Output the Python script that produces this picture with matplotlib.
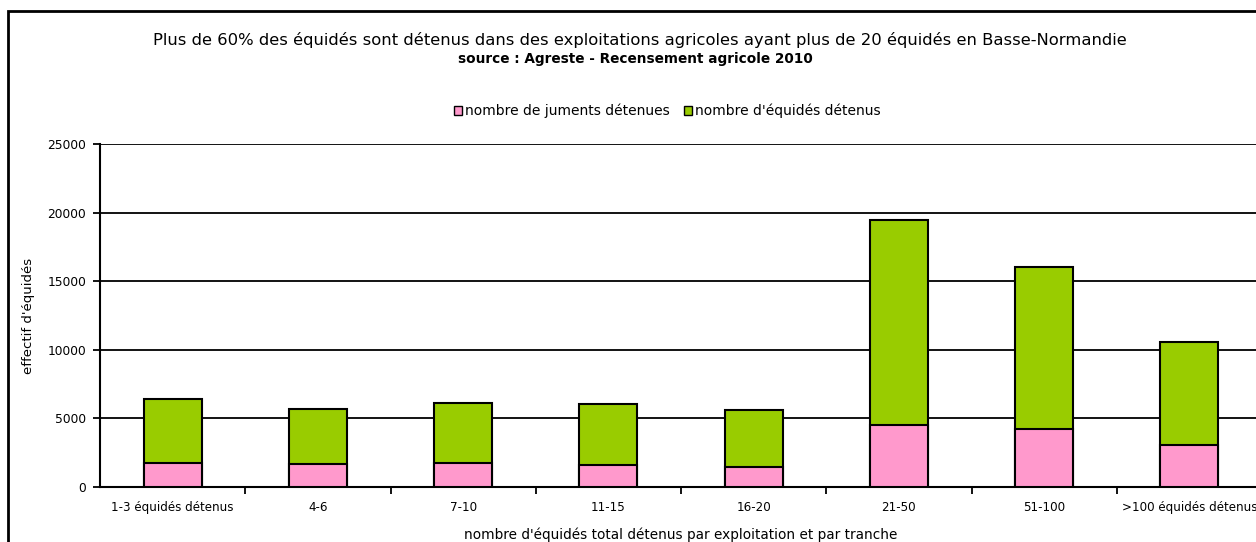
import matplotlib
matplotlib.use("Agg")
import matplotlib.pyplot as plt
import numpy as np
from matplotlib.patches import Rectangle, Patch

plt.rcParams['font.family'] = ['DejaVu Sans']

# données
tranches = ['1-3 équidés détenus', '4-6', '7-10', '11-15', '16-20', '21-50', '51-100', '>100 équidés détenus']
juments = [1770, 1650, 1770, 1625, 1480, 4520, 4230, 3060]
equides = [6450, 5690, 6150, 6030, 5590, 19450, 16030, 10570]

couleur_juments = '#ff99cc'
couleur_equides = '#99cc00'

fig = plt.figure(figsize=(12.56, 5.42), dpi=100)
ax = fig.add_axes([100 / 1256, 1 - 487 / 542, 1162 / 1256, 343 / 542])

# cadre extérieur
fig.patches.append(Rectangle((8 / 1256, -0.05), 1.1, 1 - 11 / 542 + 0.05,
                             transform=fig.transFigure, fill=False,
                             edgecolor='black', linewidth=2))

x = np.arange(len(tranches))
largeur = 0.4
ax.bar(x, equides, largeur, color=couleur_equides, edgecolor='black', linewidth=1.5, zorder=3)
ax.bar(x, juments, largeur, color=couleur_juments, edgecolor='black', linewidth=1.5, zorder=4)

ax.set_xlim(-0.5, len(tranches) - 0.5)
ax.set_ylim(0, 25000)
ax.set_yticks(range(0, 25001, 5000))
ax.yaxis.grid(True, color='black', linewidth=1.3, zorder=0)
ax.set_axisbelow(True)

ax.set_xticks(x)
ax.set_xticklabels(tranches, fontsize=8.6)
ax.set_xticks(np.arange(0.5, len(tranches) - 0.5, 1), minor=True)
ax.tick_params(axis='x', which='major', length=0, pad=10)
ax.tick_params(axis='x', which='minor', length=5, width=1.3, direction='out')
ax.tick_params(axis='y', labelsize=8.8, length=5, width=1.3, pad=5)

for s in ['top', 'right']:
    ax.spines[s].set_visible(False)
for s in ['left', 'bottom']:
    ax.spines[s].set_linewidth(1.5)

ax.set_ylabel("effectif d'équidés", fontsize=9.5, labelpad=9)
ax.set_xlabel("nombre d'équidés total détenus par exploitation et par tranche", fontsize=9.8, labelpad=10)

fig.text(640 / 1256, 1 - 40 / 542,
         "Plus de 60% des équidés sont détenus dans des exploitations agricoles ayant plus de 20 équidés en Basse-Normandie",
         ha='center', va='center', fontsize=11.8)
fig.text(635 / 1256, 1 - 59 / 542, "source : Agreste - Recensement agricole 2010",
         ha='center', va='center', fontsize=9.8, fontweight='bold')

poignees = [Patch(facecolor=couleur_juments, edgecolor='black', label='nombre de juments détenues'),
            Patch(facecolor=couleur_equides, edgecolor='black', label="nombre d'équidés détenus")]
fig.legend(handles=poignees, loc='center', bbox_to_anchor=(667 / 1256, 1 - 111 / 542),
           ncol=2, frameon=False, fontsize=10, handlelength=0.6, handleheight=0.6,
           handletextpad=0.2, columnspacing=1.0)

fig.savefig('out.png', dpi=100)
